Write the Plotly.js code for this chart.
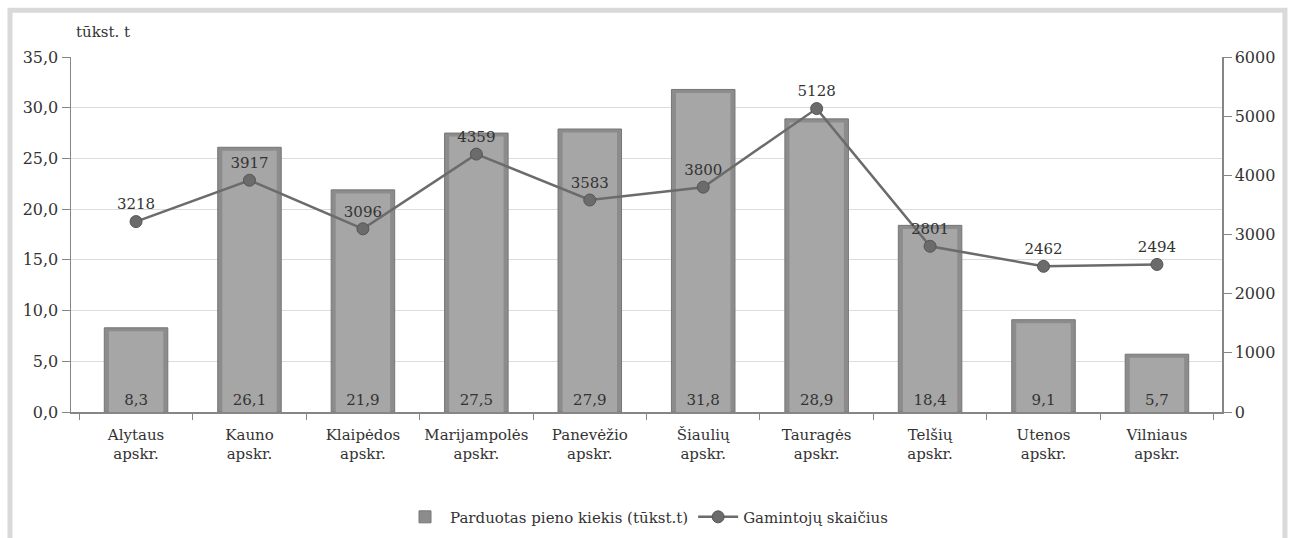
<!DOCTYPE html>
<html><head><meta charset="utf-8">
<script src="https://cdn.plot.ly/plotly-3.0.1.min.js"></script>
<style>html,body{margin:0;padding:0;background:#fff}#c{width:1290px;height:538px}</style>
</head><body><div id="c"></div>
<script>
const categories = ["Alytaus<br>apskr.","Kauno<br>apskr.","Klaipėdos<br>apskr.","Marijampolės<br>apskr.","Panevėžio<br>apskr.","Šiaulių<br>apskr.","Tauragės<br>apskr.","Telšių<br>apskr.","Utenos<br>apskr.","Vilniaus<br>apskr."];
const milkSold = [8.3, 26.1, 21.9, 27.5, 27.9, 31.8, 28.9, 18.4, 9.1, 5.7];
const producers = [3218, 3917, 3096, 4359, 3583, 3800, 5128, 2801, 2462, 2494];
const barName = "Parduotas pieno kiekis (tūkst.t)";
const lineName = "Gamintojų skaičius";
const unitLabel = "tūkst. t";

const F = "DejaVu Serif, serif";
const barText = milkSold.map(v => v.toFixed(1).replace('.', ','));

const traces = [
  {type:'bar', x:categories, y:milkSold, name:barName, width:0.56,
   marker:{color:'#8c8c8c', line:{color:'#767676', width:1}},
   showlegend:true, hoverinfo:'skip'},
  {type:'bar', x:categories, y:milkSold.map(v=>v-0.35), name:'', width:0.48,
   marker:{color:'#a6a6a6', line:{width:0}}, showlegend:false,
   text:barText, textposition:'inside', insidetextanchor:'start',
   textfont:{family:F, size:15, color:'#333'}, hoverinfo:'skip'},
  {type:'scatter', mode:'lines+markers+text', x:categories, y:producers, yaxis:'y2', name:lineName,
   line:{color:'#6b6b6b', width:2.5}, marker:{color:'#6b6b6b', size:12, line:{color:'#555', width:1}},
   text:producers.map(String), textposition:'top center', textfont:{family:F, size:15, color:'#333'}}
];

const layout = {
  width:1290, height:538,
  margin:{l:71, r:68, t:57, b:126, autoexpand:false},
  paper_bgcolor:'#fff', plot_bgcolor:'#fff',
  separators:', ',
  barmode:'overlay',
  font:{family:F, size:15, color:'#333'},
  xaxis:{type:'category', tickson:'boundaries', ticks:'outside', ticklen:6, tickcolor:'#868686', tickangle:0,
         showline:true, linecolor:'#868686', linewidth:1.5, showgrid:false, ticklabelstandoff:8,
         tickfont:{family:F, size:15, color:'#333'}, fixedrange:true},
  yaxis:{range:[0,35], dtick:5, tickformat:'.1f', ticks:'outside', ticklen:8, tickcolor:'#868686',
         showline:true, linecolor:'#868686', linewidth:1.5, gridcolor:'#dcdcdc', gridwidth:1,
         zeroline:false, tickfont:{family:F, size:16, color:'#333'}},
  yaxis2:{range:[0,6000], dtick:1000, tickformat:'d', overlaying:'y', side:'right', ticks:'outside', ticklen:8,
          tickcolor:'#868686', showline:true, linecolor:'#868686', linewidth:1.5, showgrid:false, zeroline:false,
          tickfont:{family:F, size:16, color:'#333'}},
  legend:{orientation:'h', x:0.5, xanchor:'center', y:-0.296, yanchor:'middle', itemwidth:40,
          font:{family:F, size:15, color:'#333'}, traceorder:'normal'},
  annotations:[{text:unitLabel, xref:'paper', yref:'paper', x:0.003, y:1.04, xanchor:'left', yanchor:'bottom',
                showarrow:false, font:{family:F, size:15, color:'#333'}}],
  shapes:[{type:'rect', xref:'paper', yref:'paper', x0:-0.053, x1:1.0547, y0:-0.45, y1:1.132,
           line:{color:'#d9d9d9', width:5}, fillcolor:'rgba(0,0,0,0)', layer:'below'}]
};
Plotly.newPlot('c', traces, layout, {displayModeBar:false, staticPlot:true});
</script></body></html>
